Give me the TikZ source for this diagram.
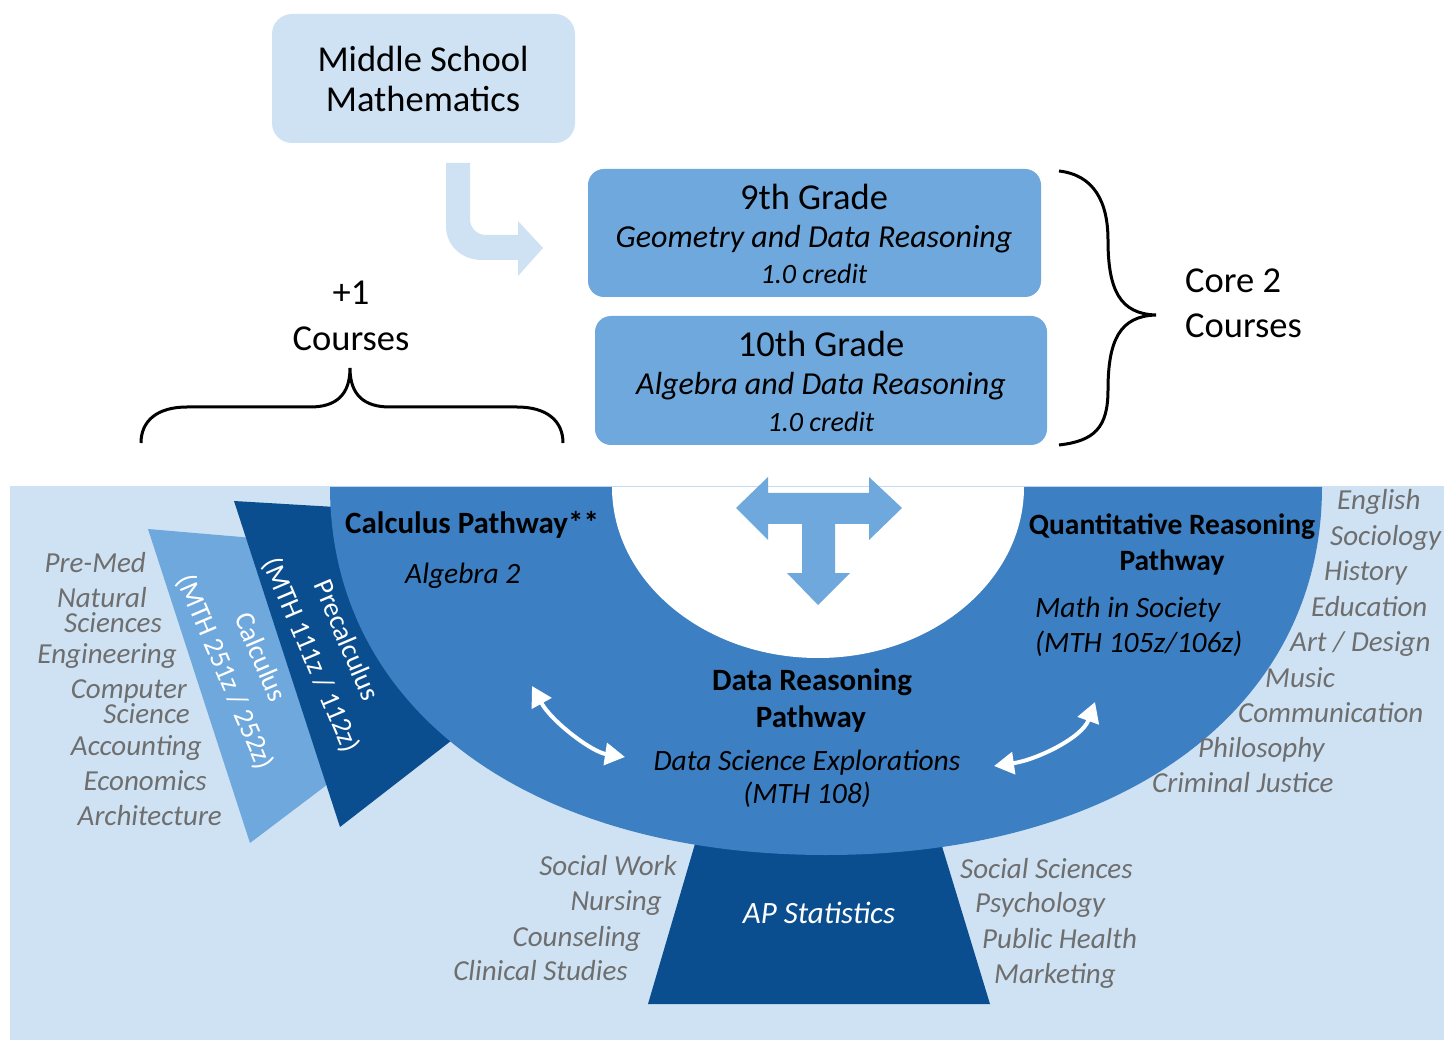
\documentclass[tikz,border=0pt]{standalone}
\usepackage{fontspec}
\setmainfont{Carlito}
\usetikzlibrary{arrows.meta}
\definecolor{bgblue}{HTML}{CFE2F3}
\definecolor{midblue}{HTML}{6FA8DC}
\definecolor{ringblue}{HTML}{3C7FC2}
\definecolor{darkblue}{HTML}{0B4E8F}
\definecolor{listgray}{HTML}{6E6E6E}
\tikzset{
  listL/.style={font=\fontsize{29}{30}\selectfont\itshape, text=listgray, anchor=base west, inner sep=0pt},
  listR/.style={font=\fontsize{29}{30}\selectfont\itshape, text=listgray, anchor=base east, inner sep=0pt},
  ringbold/.style={font=\fontsize{31}{34}\selectfont\bfseries, anchor=base, inner sep=0pt},
  ringital/.style={font=\fontsize{29.5}{33}\selectfont\itshape, anchor=base, inner sep=0pt},
  bigtxt/.style={font=\fontsize{36.5}{40}\selectfont, anchor=base, inner sep=0pt},
  subtxt/.style={font=\fontsize{32}{34}\selectfont\itshape, anchor=base, inner sep=0pt},
  credtxt/.style={font=\fontsize{28}{30}\selectfont\itshape, anchor=base, inner sep=0pt},
  fantxt/.style={font=\fontsize{28}{38}\selectfont, text=white, align=center, rotate=-67, inner sep=0pt},
  gradebox/.style={fill=midblue, rounded corners=16pt},
  bracepen/.style={draw=black, line width=3pt},
  whitearrow/.style={draw=white, line width=4pt, {Triangle[length=20pt,width=22pt]}-{Triangle[length=20pt,width=22pt]}}
}
\begin{document}
\begin{tikzpicture}[x=1pt,y=-1pt]
\useasboundingbox (0,0) rectangle (1444,1040);
\fill[white] (0,0) rectangle (1444,1040);
% light blue background
\fill[bgblue] (10,486) rectangle (1444,1040);
% calculus fan
\fill[midblue] (148,529) -- (250,843) -- (332,781) -- (300,650) -- (265,539) -- cycle;
% precalculus fan
\fill[darkblue] (234,501) -- (340,827) -- (456,737) -- (520,700) -- (420,512) -- cycle;
% AP statistics trapezoid
\fill[darkblue] (648,1004) -- (990,1004) -- (934,820) -- (702,820) -- cycle;
% ring
\fill[ringblue] (330,487) .. controls (330,708) and (528,855) .. (826,855)
   .. controls (1124,855) and (1322,708) .. (1322,487) -- cycle;
\fill[white] (612,487) .. controls (612,581) and (704,658) .. (818,658)
   .. controls (932,658) and (1024,581) .. (1024,487) -- cycle;
% T arrow
\fill[midblue] (736,508) -- (768,477) -- (768,493) -- (869,493) -- (869,477) -- (902,508)
  -- (869,540) -- (869,524) -- (835,524) -- (835,573) -- (850,573) -- (818,605)
  -- (787,573) -- (802,573) -- (802,524) -- (768,524) -- (768,540) -- cycle;
% curved white arrows
\coordinate (la) at (532,686);
\coordinate (lb) at (625,757);
\coordinate (ra) at (994,766);
\coordinate (rb) at (1095,702);
\draw[whitearrow] (la) .. controls (552,722) and (592,752) .. (lb);
\draw[whitearrow] (ra) .. controls (1036,760) and (1082,738) .. (rb);

% top boxes
\fill[bgblue, rounded corners=20pt] (272,14) rectangle (575,143);
\node[bigtxt] (ms1) at (423,72) {Middle School};
\node[bigtxt] (ms2) at (423,112) {Mathematics};
% bent arrow
\fill[bgblue] (446,163) -- (446,226) .. controls (446,246) and (462,260) .. (482,260)
  -- (518,260) -- (518,276) -- (543,248) -- (518,221) -- (518,235) -- (486,235)
  .. controls (477,235) and (470,228) .. (470,219) -- (470,163) -- cycle;

\fill[gradebox] (588,169) rectangle (1041,297);
\node[bigtxt] (g9) at (814,210) {9th Grade};
\node[subtxt] (g9s) at (814,248) {Geometry and Data Reasoning};
\node[credtxt] (g9c) at (814,284) {1.0 credit};
\fill[gradebox] (595,316) rectangle (1047,445);
\node[bigtxt] (g10) at (821,357) {10th Grade};
\node[subtxt] (g10s) at (821,395) {Algebra and Data Reasoning};
\node[credtxt] (g10c) at (821,432) {1.0 credit};

% right brace
\draw[bracepen] (1059,171) .. controls (1094,175) and (1108,202) .. (1108,240)
  .. controls (1108,290) and (1120,314) .. (1156,315)
  .. controls (1120,316) and (1108,340) .. (1108,390)
  .. controls (1108,428) and (1094,441) .. (1059,445);
\node[bigtxt, anchor=base west] (core1) at (1185,293) {Core 2};
\node[bigtxt, anchor=base west] (core2) at (1185,338) {Courses};
% left brace
\draw[bracepen] (141,443) .. controls (141,421) and (157,407) .. (187,407) -- (310,407)
  .. controls (336,407) and (350,395) .. (350,368)
  .. controls (350,395) and (364,407) .. (390,407) -- (517,407)
  .. controls (547,407) and (563,421) .. (563,443);
\node[bigtxt] (plus1) at (351,305) {+1};
\node[bigtxt] (plus2) at (351,351) {Courses};

% ring texts
\node[ringbold, anchor=base west] (calc) at (345,533) {Calculus Pathway**};
\node[ringital, anchor=base west] (alg2) at (405,583) {Algebra 2};
\node[ringbold, font=\fontsize{29.5}{34}\selectfont\bfseries] (qr1) at (1172,535) {Quantitative Reasoning};
\node[ringbold, font=\fontsize{29.5}{34}\selectfont\bfseries] (qr2) at (1172,570) {Pathway};
\node[ringital, anchor=base west] (mis1) at (1035,617) {Math in Society};
\node[ringital, anchor=base west] (mis2) at (1035,652) {(MTH 105z/106z)};
\node[ringbold] (dr1) at (812,690) {Data Reasoning};
\node[ringbold] (dr2) at (811,727) {Pathway};
\node[ringital] (dse1) at (807,770) {Data Science Explorations};
\node[ringital] (dse2) at (807,803) {(MTH 108)};
\node[font=\fontsize{31}{34}\selectfont\itshape, text=white, anchor=base, inner sep=0pt] (aps) at (819,923) {AP Statistics};

% fan texts
\node[fantxt] (calctxt) at (242,665) {Calculus\\(MTH 251z / 252z)};
\node[fantxt] (pretxt) at (328,648) {Precalculus\\(MTH 111z / 112z)};

% left list
\node[listR] (l1) at (146,572) {Pre-Med};
\node[listR] (l2) at (147,607) {Natural};
\node[listR] (l3) at (162,632) {Sciences};
\node[listR] (l4) at (177,663) {Engineering};
\node[listR] (l5) at (187,698) {Computer};
\node[listR] (l6) at (190,723) {Science};
\node[listR] (l7) at (202,755) {Accounting};
\node[listR] (l8) at (207,790) {Economics};
\node[listR] (l9) at (222,825) {Architecture};
% right list
\node[listL] (r1) at (1337,510) {English};
\node[listL] (r2) at (1330,545) {Sociology};
\node[listL] (r3) at (1324,580) {History};
\node[listL] (r4) at (1311,616) {Education};
\node[listL] (r5) at (1290,651) {Art / Design};
\node[listL] (r6) at (1265,687) {Music};
\node[listL] (r7) at (1238,722) {Communication};
\node[listL] (r8) at (1198,757) {Philosophy};
\node[listL] (r9) at (1152,792) {Criminal Justice};
% bottom left list
\node[listR] (b1) at (677,875) {Social Work};
\node[listR] (b2) at (662,910) {Nursing};
\node[listR] (b3) at (641,946) {Counseling};
\node[listR] (b4) at (628,980) {Clinical Studies};
% bottom right list
\node[listL] (c1) at (960,878) {Social Sciences};
\node[listL] (c2) at (975,912) {Psychology};
\node[listL] (c3) at (982,948) {Public Health};
\node[listL] (c4) at (994,983) {Marketing};
\end{tikzpicture}
\end{document}
